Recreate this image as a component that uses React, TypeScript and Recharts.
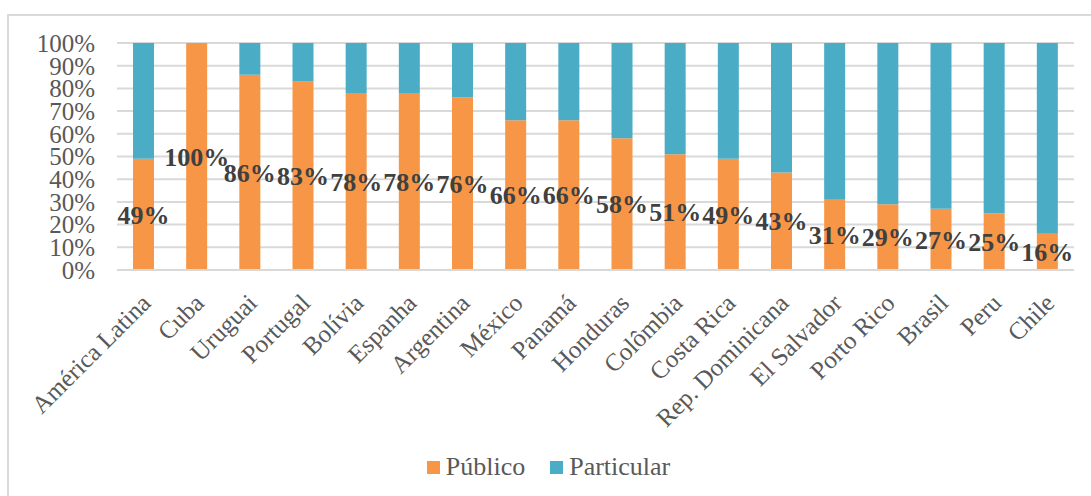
import { BarChart, Bar, XAxis, YAxis, CartesianGrid, Legend, LabelList } from "recharts"

const paises = [
  "América Latina",
  "Cuba",
  "Uruguai",
  "Portugal",
  "Bolívia",
  "Espanha",
  "Argentina",
  "México",
  "Panamá",
  "Honduras",
  "Colômbia",
  "Costa Rica",
  "Rep. Dominicana",
  "El Salvador",
  "Porto Rico",
  "Brasil",
  "Peru",
  "Chile",
]
const publico = [49, 100, 86, 83, 78, 78, 76, 66, 66, 58, 51, 49, 43, 31, 29, 27, 25, 16]
const particular = [51, 0, 14, 17, 22, 22, 24, 34, 34, 42, 49, 51, 57, 69, 71, 73, 75, 84]
const ticksY = [0, 10, 20, 30, 40, 50, 60, 70, 80, 90, 100]

const fonte = "'Liberation Serif', serif"
const cinza = "#595959"
const laranja = "#F79646"
const azul = "#4BACC6"

const dados = paises.map((pais, i) => ({
  pais,
  publico: publico[i],
  particular: particular[i],
}))

const LegendaCustom = () => (
  <div
    style={{
      display: "flex",
      justifyContent: "center",
      alignItems: "center",
      fontFamily: fonte,
      fontSize: 26,
      color: cinza,
      paddingLeft: 6,
    }}
  >
    <span style={{ width: 13, height: 13, background: laranja, marginRight: 6 }} />
    <span style={{ marginRight: 25 }}>Público</span>
    <span style={{ width: 13, height: 13, background: azul, marginRight: 6 }} />
    <span>Particular</span>
  </div>
)

export default function App() {
  return (
    <div style={{ position: "absolute", left: 0, top: 0, width: 1091, height: 496, background: "#fff" }}>
      <div
        style={{
          position: "absolute",
          left: 7,
          top: 14,
          width: 1084,
          height: 482,
          borderTop: "2px solid #d9d9d9",
          borderLeft: "2px solid #d9d9d9",
          boxSizing: "border-box",
        }}
      />
      <div style={{ position: "absolute", left: 0, top: 0 }}>
        <BarChart
          width={1091}
          height={496}
          data={dados}
          margin={{ top: 43, right: 17, left: 0, bottom: 0 }}
          barSize={21}
        >
          <CartesianGrid vertical={false} stroke="#d9d9d9" strokeWidth={2} />
          <XAxis
            dataKey="pais"
            interval={0}
            angle={-45}
            textAnchor="end"
            height={196}
            tickLine={false}
            tickSize={0}
            tickMargin={22}
            axisLine={{ stroke: "#d9d9d9", strokeWidth: 2 }}
            tick={{ fill: cinza, fontSize: 25, fontFamily: fonte, dx: -4 }}
          />
          <YAxis
            width={117}
            domain={[0, 100]}
            ticks={ticksY}
            interval={0}
            tickFormatter={(v: number) => `${v}%`}
            axisLine={false}
            tickLine={false}
            tickSize={0}
            tickMargin={22}
            tick={{ fill: cinza, fontSize: 25, fontFamily: fonte }}
          />
          <Legend
            verticalAlign="bottom"
            content={<LegendaCustom />}
            wrapperStyle={{ height: 30, top: 452, bottom: "auto", left: 0, width: 1091 }}
          />
          <Bar dataKey="publico" stackId="a" fill={laranja} name="Público" isAnimationActive={false}>
            <LabelList
              dataKey="publico"
              position="center"
              formatter={(v: number) => `${v}%`}
              fill="#404040"
              fontSize={26}
              fontWeight="bold"
              fontFamily={fonte}
            />
          </Bar>
          <Bar dataKey="particular" stackId="a" fill={azul} name="Particular" isAnimationActive={false} />
        </BarChart>
      </div>
    </div>
  )
}
